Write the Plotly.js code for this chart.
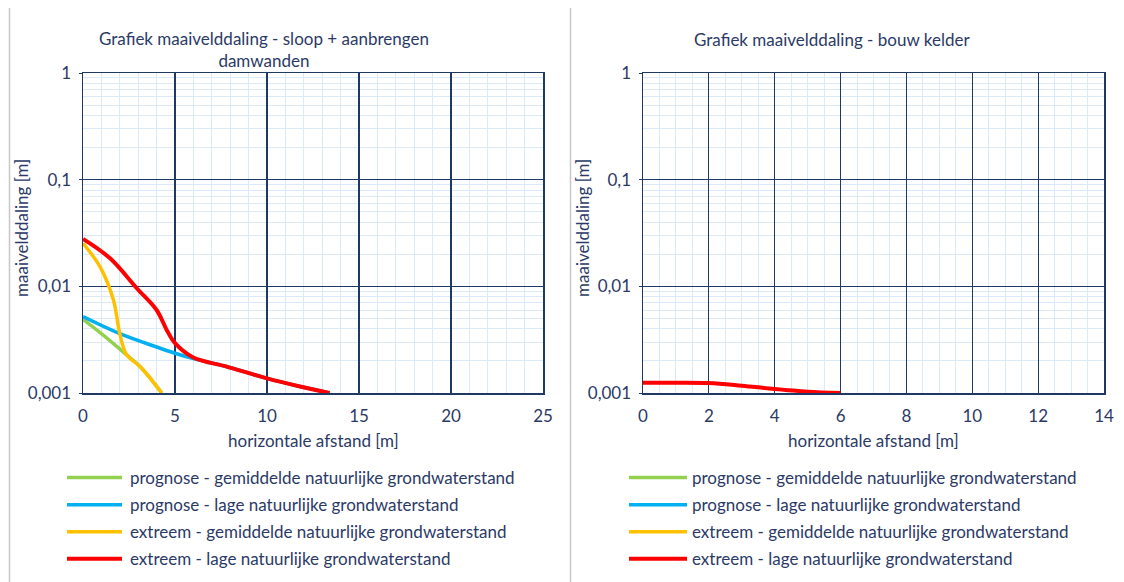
<!DOCTYPE html>
<html>
<head>
<meta charset="utf-8">
<script src="https://cdn.plot.ly/plotly-3.0.1.min.js"></script>
<style>
html,body{margin:0;padding:0;background:#fff;}
#chart{width:1124px;height:582px;}
</style>
</head>
<body>
<div id="chart"></div>
<script>
// ---- data ----
const seriesNames = [
  "prognose - gemiddelde natuurlijke grondwaterstand",
  "prognose - lage natuurlijke grondwaterstand",
  "extreem - gemiddelde natuurlijke grondwaterstand",
  "extreem - lage natuurlijke grondwaterstand"
];
const seriesColors = ["#92d050", "#00b0f0", "#ffc000", "#ff0000"];

// left chart: sloop + aanbrengen damwanden
const leftGreenX  = [0, 1, 2.37, 3.1, 4.28];
const leftGreenY  = [0.0049, 0.0036, 0.00228, 0.00177, 0.001];
const leftBlueX   = [0, 2, 4, 5, 6, 7.8, 10, 11.8, 13.4];
const leftBlueY   = [0.0052, 0.0036, 0.0027, 0.00236, 0.0021, 0.00177, 0.00137, 0.00115, 0.001];
const leftOrangeX = [0, 0.92, 1.65, 2.0, 2.37, 3.1, 4.28];
const leftOrangeY = [0.0253, 0.0153, 0.0075, 0.0036, 0.00228, 0.00177, 0.001];
const leftRedX    = [0, 1.47, 2.92, 4.0, 4.55, 5.0, 6.0, 7.8, 10, 11.8, 13.4];
const leftRedY    = [0.0278, 0.0183, 0.0096, 0.0060, 0.0039, 0.00293, 0.00215, 0.00177, 0.00137, 0.00115, 0.001];

// right chart: bouw kelder (only the red series is visible above 0,001)
const rightRedX = [0, 1, 2, 3, 4, 5, 6];
const rightRedY = [0.00125, 0.00125, 0.00124, 0.00117, 0.00109, 0.00103, 0.001];

const yTickVals = [0.001, 0.01, 0.1, 1];
const yTickText = ["0,001", "0,01", "0,1", "1"];
const leftTitle = "Grafiek maaivelddaling - sloop + aanbrengen<br>damwanden";
const rightTitle = "Grafiek maaivelddaling - bouw kelder";
const xTitle = "horizontale afstand [m]";
const yTitle = "maaivelddaling [m]";

// ---- build ----
const W = 1124, H = 582;
const px = v => v / W;
const py = v => 1 - v / H;
const FONT = "Lato, 'Open Sans', sans-serif";
const FS = 17;
const TXT = "#2b3a66";
const NAVY = "#1f3864";
const MINOR = "#dce9f6";

const minorVals = [];
[0.001, 0.01, 0.1].forEach(d => { for (let k = 2; k <= 9; k++) minorVals.push(+(d * k).toPrecision(3)); });

const leftData = [
  [leftGreenX, leftGreenY],
  [leftBlueX, leftBlueY],
  [leftOrangeX, leftOrangeY],
  [leftRedX, leftRedY]
];
const rightData = [
  [[null], [null]],
  [[null], [null]],
  [[null], [null]],
  [rightRedX, rightRedY]
];

const traces = [];
leftData.forEach((d, i) => {
  traces.push({
    x: d[0], y: d[1], type: "scatter", mode: "lines",
    name: seriesNames[i], xaxis: "x", yaxis: "y",
    line: {color: seriesColors[i], width: i === 3 ? 4 : 3.5, shape: "spline", smoothing: 1},
    legend: "legend", legendgroup: "L" + i, hoverinfo: "x+y"
  });
});
rightData.forEach((d, i) => {
  traces.push({
    x: d[0], y: d[1], type: "scatter", mode: "lines",
    name: seriesNames[i], xaxis: "x2", yaxis: "y2",
    line: {color: seriesColors[i], width: i === 3 ? 4 : 3.5, shape: "spline", smoothing: 1},
    legend: "legend2", legendgroup: "R" + i, hoverinfo: "x+y"
  });
});

function xAxis(domain, range, dtick, minorDtick) {
  return {
    domain: domain, range: range, type: "linear",
    dtick: dtick, tick0: 0,
    showgrid: true, gridcolor: NAVY, gridwidth: 1.2,
    minor: {dtick: minorDtick, showgrid: true, gridcolor: MINOR, gridwidth: 1},
    showline: true, linecolor: NAVY, linewidth: 1.5, mirror: true,
    ticks: "", ticklabelstandoff: 7,
    tickfont: {family: FONT, size: FS, color: TXT},
    zeroline: false, fixedrange: true
  };
}
function yAxis(anchor) {
  return {
    domain: [py(393), py(73)], type: "log", range: [-3, 0],
    tickvals: yTickVals, ticktext: yTickText,
    showgrid: true, gridcolor: NAVY, gridwidth: 1.2,
    minor: {tickvals: minorVals, showgrid: true, gridcolor: MINOR, gridwidth: 1},
    showline: true, linecolor: NAVY, linewidth: 1.5, mirror: true,
    ticks: "outside", ticklen: 3, tickcolor: NAVY, ticklabelstandoff: 4,
    tickfont: {family: FONT, size: FS, color: TXT},
    anchor: anchor, zeroline: false, fixedrange: true
  };
}

function legendCfg(x) {
  return {
    x: px(x), y: py(460), xanchor: "left", yanchor: "top",
    bgcolor: "rgba(0,0,0,0)", borderwidth: 0,
    font: {family: FONT, size: FS, color: TXT},
    tracegroupgap: 2, itemwidth: 58
  };
}

const ann = (text, x, y, extra) => Object.assign({
  text: text, xref: "paper", yref: "paper", x: px(x), y: py(y),
  xanchor: "center", yanchor: "middle", showarrow: false,
  font: {family: FONT, size: FS, color: TXT}
}, extra || {});

const layout = {
  width: W, height: H,
  margin: {l: 0, r: 0, t: 0, b: 0},
  paper_bgcolor: "#ffffff", plot_bgcolor: "#ffffff",
  showlegend: true,
  font: {family: FONT, color: TXT},
  xaxis: xAxis([px(83), px(543)], [0, 25], 5, 1),
  yaxis: yAxis("x"),
  xaxis2: xAxis([px(643), px(1104)], [0, 14], 2, 0.5),
  yaxis2: yAxis("x2"),
  legend: legendCfg(62),
  legend2: legendCfg(624),
  annotations: [
    ann(leftTitle, 264, 49),
    ann(rightTitle, 832, 40),
    ann(xTitle, 313, 440),
    ann(xTitle, 873, 440),
    ann(yTitle, 22, 228, {textangle: -90}),
    ann(yTitle, 583, 228, {textangle: -90})
  ],
  shapes: [
    {type: "line", xref: "paper", yref: "paper", x0: px(9.5), x1: px(9.5), y0: py(8), y1: 0, line: {color: "#c8c8c8", width: 1.5}},
    {type: "line", xref: "paper", yref: "paper", x0: px(570.5), x1: px(570.5), y0: py(8), y1: 0, line: {color: "#c8c8c8", width: 1.5}}
  ]
};

Plotly.newPlot("chart", traces, layout, {displayModeBar: false, staticPlot: true}).then(gd => {
  // lengthen the legend line symbols to match the reference
  gd.querySelectorAll(".legend .legendlines path").forEach(p => {
    p.setAttribute("d", "M5,0h55");
  });
});
</script>
</body>
</html>
